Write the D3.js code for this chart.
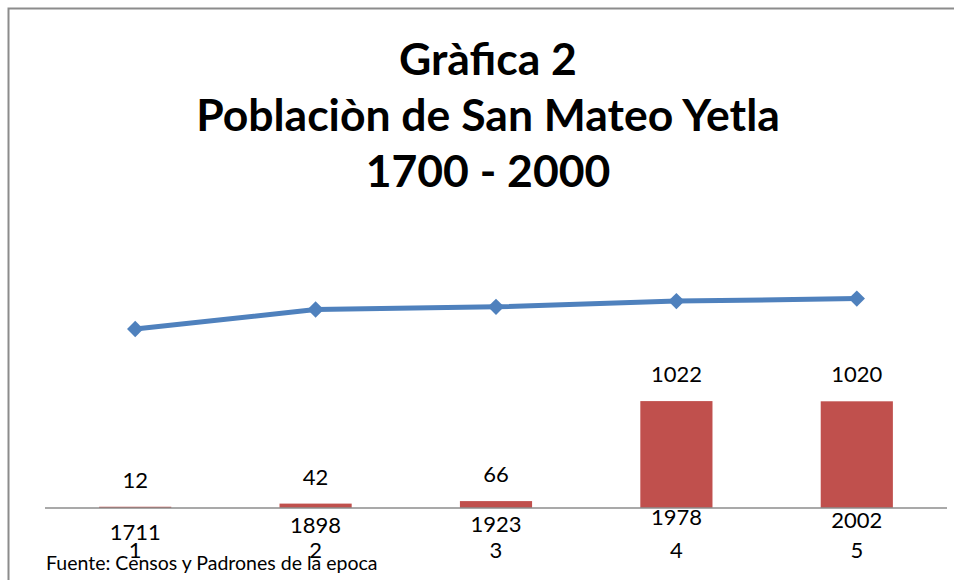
<!DOCTYPE html>
<html>
<head>
<meta charset="utf-8">
<script src="https://cdn.jsdelivr.net/npm/d3@7"></script>
<style>
  html, body { margin: 0; padding: 0; background: #fff; }
  svg { display: block; font-family: Lato, "Open Sans", sans-serif; }
</style>
</head>
<body>
<div id="chart"></div>
<script>
// chart data
var indexLabels = ["1", "2", "3", "4", "5"];
var years = [1711, 1898, 1923, 1978, 2002];
var population = [12, 42, 66, 1022, 1020];
var titleLines = ["Gràfica 2", "Poblaciòn de San Mateo Yetla", "1700 - 2000"];
var source = "Fuente: Censos y Padrones de la epoca";

// layout
var width = 954, height = 580;
var plot = {left: 45, right: 947, bottom: 508};
var yearLabelBaseline = [540, 533, 532, 525, 528];
var barColor = "#c0504d", lineColor = "#4f81bd";

var svg = d3.select("#chart").append("svg")
    .attr("width", width)
    .attr("height", height);

// chart area frame (runs off the right / bottom edges)
svg.append("rect")
    .attr("x", 8.5).attr("y", 8.5)
    .attr("width", 1000).attr("height", 1000)
    .style("fill", "none")
    .style("stroke", "#8c8c8c")
    .style("stroke-width", 2);

var titleG = svg.append("g")
    .attr("text-anchor", "middle")
    .style("font-weight", "bold")
    .style("font-size", "44.5px");
titleLines.forEach(function(t, i) {
    titleG.append("text")
        .attr("x", 488)
        .attr("y", 75 + i * 56)
        .text(t);
});

var x = d3.scaleBand()
    .domain(indexLabels)
    .range([plot.left, plot.right])
    .paddingInner(0.6)
    .paddingOuter(0.3);

var y = d3.scaleLinear()
    .domain([0, 2500])
    .range([plot.bottom, plot.bottom - 2500 * 0.1046]);

// bars
svg.append("g").selectAll("rect")
    .data(population)
    .enter().append("rect")
    .attr("x", (d, i) => x(indexLabels[i]))
    .attr("y", d => y(d))
    .attr("width", x.bandwidth())
    .attr("height", d => y(0) - y(d))
    .style("fill", barColor);

// bar value labels
svg.append("g")
    .attr("text-anchor", "middle")
    .style("font-size", "22px")
    .selectAll("text")
    .data(population)
    .enter().append("text")
    .attr("x", (d, i) => x(indexLabels[i]) + x.bandwidth() / 2)
    .attr("y", d => y(d) - 19)
    .text(d => d);

// baseline
svg.append("line")
    .attr("x1", plot.left).attr("x2", plot.right)
    .attr("y1", y(0)).attr("y2", y(0))
    .style("stroke", "#8c8c8c")
    .style("stroke-width", 1.5);

// year line series
var line = d3.line()
    .x((d, i) => x(indexLabels[i]) + x.bandwidth() / 2)
    .y(d => y(d));
svg.append("path")
    .datum(years)
    .attr("d", line)
    .style("fill", "none")
    .style("stroke", lineColor)
    .style("stroke-width", 5)
    .style("stroke-linejoin", "round");

svg.append("g").selectAll("path")
    .data(years)
    .enter().append("path")
    .attr("d", d3.symbol().type(d3.symbolDiamond2).size(170))
    .attr("transform", (d, i) =>
        `translate(${x(indexLabels[i]) + x.bandwidth() / 2}, ${y(d)})`)
    .style("fill", lineColor);

// category labels: year above index
var catG = svg.append("g")
    .attr("text-anchor", "middle")
    .style("font-size", "22px");
years.forEach(function(yr, i) {
    var cx = x(indexLabels[i]) + x.bandwidth() / 2;
    catG.append("text").attr("x", cx).attr("y", yearLabelBaseline[i]).text(yr);
    catG.append("text").attr("x", cx).attr("y", 558).text(indexLabels[i]);
});

svg.append("text")
    .attr("x", 46)
    .attr("y", 570)
    .style("font-size", "19.5px")
    .text(source);
</script>
</body>
</html>
